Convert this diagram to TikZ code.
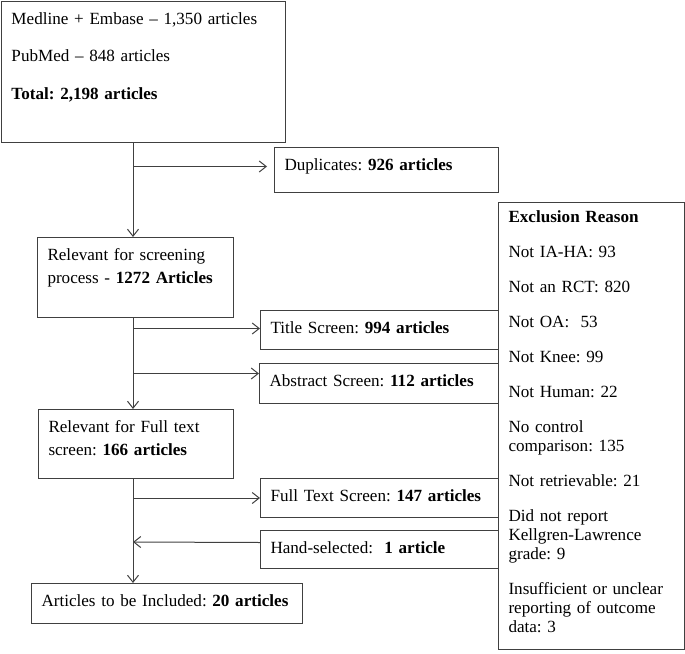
\documentclass[tikz,border=0pt]{standalone}
\usepackage{fontspec}
\setmainfont{Liberation Serif}
\usetikzlibrary{arrows.meta}

\begin{document}
\frenchspacing
\hyphenpenalty=10000
\begin{tikzpicture}[
		x=1pt, y=-1pt,
		line width=1pt,
		box/.style = {draw=black!75, anchor=north west, inner xsep=10pt, inner ysep=0pt,
			align=left, text height=23pt, font=\fontsize{17.1}{23}\selectfont},
		arr/.style = {draw=black!75, -{Straight Barb[length=7pt, width=11pt]}}
	]
	\useasboundingbox (0,0) rectangle (685,653);
	% Main column.
	\node[box, text width=264pt, text depth=118pt] (search) at (1,1)
		{Medline + Embase -- 1,350 articles\\[14.3pt] PubMed -- 848 articles\\[14.3pt] \textbf{Total: 2,198 articles}};
	\node[box, text width=176pt, text depth=57pt] (screen) at (37,237)
		{Relevant for screening\\process - \textbf{1272 Articles}};
	\node[box, text width=175pt, text depth=46pt] (fulltext) at (38,409)
		{Relevant for Full text\\screen: \textbf{166 articles}};
	\node[box, text width=251pt, text depth=17pt] (included) at (31,583)
		{Articles to be Included: \textbf{20 articles}};
	% Side boxes.
	\node[box, text width=204pt, text depth=22pt] (dup) at (274,147) {Duplicates: \textbf{926 articles}};
	\node[box, text width=218pt, text depth=16pt] (title) at (260,310) {Title Screen: \textbf{994 articles}};
	\node[box, text width=219pt, text depth=17pt] (abstract) at (259,363) {Abstract Screen: \textbf{112 articles}};
	\node[box, text width=218pt, text depth=16pt] (ftscreen) at (260,478) {Full Text Screen: \textbf{147 articles}};
	\node[box, text width=218pt, text depth=15pt] (hand) at (260,530) {Hand-selected: \ \textbf{1 article}};
	% Exclusion list.
	\node[box, text width=166pt, text height=20pt, text depth=427pt, font=\fontsize{17.1}{19}\selectfont] (excl) at (498,202)
		{\textbf{Exclusion Reason}\\[16pt]
		Not IA-HA: 93\\[16pt]
		Not an RCT: 820\\[16pt]
		Not OA: \ 53\\[16pt]
		Not Knee: 99\\[16pt]
		Not Human: 22\\[16pt]
		No control\\comparison: 135\\[16pt]
		Not retrievable: 21\\[16pt]
		Did not report\\Kellgren-Lawrence\\grade: 9\\[16pt]
		Insufficient or unclear\\reporting of outcome\\data: 3};
	
	\coordinate (spine) at (133,0);
	\coordinate (handin) at (133,542);
	
	\draw[arr] (search.south -| spine) -- (screen.north -| spine);
	\draw[arr] (search.south -| spine) |- ([xshift=-7pt, yshift=3.5pt]dup.west);
	\draw[arr] (screen.south -| spine) -- (fulltext.north -| spine);
	\draw[arr] (screen.south -| spine) |- ([yshift=1.5pt]title.west);
	\draw[arr] (screen.south -| spine) |- ([yshift=10pt]abstract.west);
	\draw[arr] (fulltext.south -| spine) -- (included.north -| spine);
	\draw[arr] (fulltext.south -| spine) |- (ftscreen.west);
	\draw[arr] ([yshift=7pt]hand.west) -- (handin);
\end{tikzpicture}
\end{document}
